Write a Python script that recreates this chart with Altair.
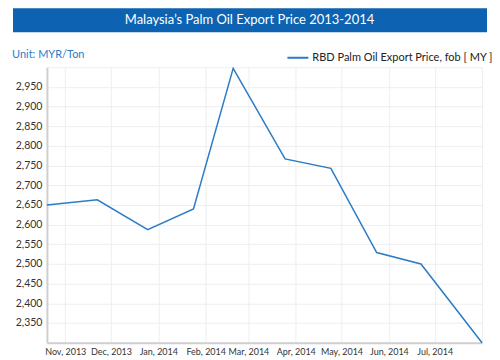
import altair as alt
import pandas as pd

# ---- data ----
dates = ["2013-10-20", "2013-11-22", "2013-12-25", "2014-01-24", "2014-02-19",
         "2014-03-25", "2014-04-24", "2014-05-24", "2014-06-22", "2014-08-01"]
prices = [2650, 2663, 2587, 2640, 2997, 2767, 2743, 2529, 2500, 2300]
series_name = "RBD Palm Oil Export Price, fob [ MY ]"
title_text = ["Malaysia\u2019s Palm Oil Export Price 2013-2014"]
unit_text = ["Unit: MYR/Ton"]
y_ticks = [2300, 2350, 2400, 2450, 2500, 2550, 2600, 2650, 2700, 2750, 2800, 2850, 2900, 2950, 3000]
x_ticks = ["2013-11-01", "2013-12-01", "2014-01-01", "2014-02-01", "2014-03-01",
           "2014-04-01", "2014-05-01", "2014-06-01", "2014-07-01", "2014-08-01"]
x_domain = ["2013-10-20", "2014-08-01"]
y_domain = [2300, 3000]


def ms(d):
    return int(pd.Timestamp(d, tz="UTC").value // 10**6)


df = pd.DataFrame({
    "date": [ms(d) for d in dates],
    "price": prices,
    "series": [series_name] * len(dates),
})

FONT = "Lato"
BLUE = "#2b7cc6"

line = alt.Chart(df).mark_line(strokeWidth=1.5).encode(
    x=alt.X("date:T",
            scale=alt.Scale(type="utc", domain=[ms(d) for d in x_domain]),
            axis=alt.Axis(values=[ms(d) for d in x_ticks],
                          labelExpr="datum.value >= 1406851200000 ? '' : utcFormat(datum.value, '%b, %Y')",
                          title=None, ticks=False, labelPadding=5, labelOverlap=False,
                          labelFontSize=9, labelColor="#333333", labelFont=FONT,
                          domainColor="#cfcfcf", domainWidth=2,
                          gridColor="#eeeeee", gridWidth=1, labelFlush=False)),
    y=alt.Y("price:Q",
            scale=alt.Scale(domain=y_domain, nice=False, zero=False),
            axis=alt.Axis(values=y_ticks,
                          labelExpr="datum.value == 2300 || datum.value == 3000 ? '' : format(datum.value, ',')",
                          title=None, ticks=False, labelPadding=5,
                          labelFontSize=10.5, labelColor="#333333", labelFont=FONT,
                          domainColor="#cfcfcf", domainWidth=2,
                          gridColor="#eeeeee", gridWidth=1)),
    color=alt.Color("series:N",
                    scale=alt.Scale(domain=[series_name], range=[BLUE]),
                    legend=alt.Legend(title=None, orient="none", legendX=240, legendY=-21,
                                      symbolType="stroke", symbolSize=441, symbolStrokeWidth=2,
                                      labelFontSize=11, labelFont=FONT, labelColor="#222222",
                                      labelOffset=3, padding=0, labelLimit=400)),
)

bar = alt.Chart(pd.DataFrame({"t": title_text})).mark_rect(color="#0d63b1").encode(
    x=alt.value(-34), x2=alt.value(441), y=alt.value(-59), y2=alt.value(-35)
)

title = alt.Chart(pd.DataFrame({"t": title_text})).mark_text(
    color="white", fontSize=13, font=FONT, align="center", baseline="alphabetic"
).encode(x=alt.value(203), y=alt.value(-43), text="t:N")

unit = alt.Chart(pd.DataFrame({"t": unit_text})).mark_text(
    color="#2a7cc8", fontSize=11, font=FONT, align="left", baseline="alphabetic"
).encode(x=alt.value(-35), y=alt.value(-9), text="t:N")

chart = alt.layer(bar, title, unit, line).properties(
    width=436, height=276,
    autosize=alt.AutoSizeParams(type="none"),
    padding={"left": 39, "top": 59, "right": 10, "bottom": 16},
).configure_view(stroke=None)

chart.save("out.html", embed_options={"renderer": "svg", "actions": False})
